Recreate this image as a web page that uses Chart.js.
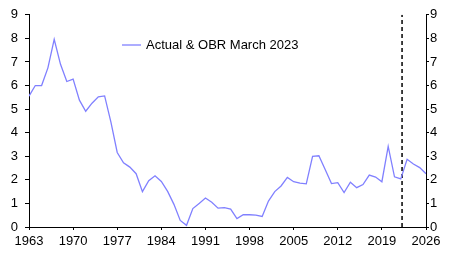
<!DOCTYPE html>
<html>
<head>
<meta charset="utf-8">
<script src="https://cdn.jsdelivr.net/npm/chart.js@4/dist/chart.umd.min.js"></script>
<style>
  html, body { margin: 0; padding: 0; background: #fff; }
  #wrap { width: 456px; height: 253px; position: relative; }
</style>
</head>
<body>
<div id="wrap"><canvas id="chart"></canvas></div>
<script>
const firstYear = 1963;
const rate = [
    5.55, 6.0, 6.0, 6.75, 7.96, 6.9, 6.17, 6.27, 5.38, 4.91,
    5.25, 5.52, 5.56, 4.45, 3.16, 2.72, 2.54, 2.26, 1.5, 1.96,
    2.17, 1.93, 1.51, 0.96, 0.28, 0.07, 0.78, 1.0, 1.23, 1.05,
    0.8, 0.82, 0.76, 0.36, 0.52, 0.52, 0.5, 0.45, 1.1, 1.5,
    1.74, 2.1, 1.92, 1.86, 1.83, 3.0, 3.02, 2.44, 1.84, 1.88,
    1.46, 1.9, 1.67, 1.8, 2.2, 2.12, 1.92, 3.42, 2.13, 2.04,
    2.87, 2.67, 2.52, 2.26
];
const forecastLine = [2022.2];
const xTicks = [1963, 1970, 1977, 1984, 1991, 1998, 2005, 2012, 2019, 2026];
const yTicks = [0, 1, 2, 3, 4, 5, 6, 7, 8, 9];
const seriesLabel = 'Actual & OBR March 2023';

let points = [];
for (let i = 0; i < rate.length; i++) {
    points.push({ x: firstYear + i, y: rate[i] });
}

const font = { family: "'Liberation Sans', Arial, sans-serif", size: 13 };

// legend drawn inside the plot, like the original
const insideLegend = {
    id: 'insideLegend',
    afterDraw(chart) {
        const ctx = chart.ctx;
        const ds = chart.data.datasets[0];
        ctx.save();
        ctx.strokeStyle = ds.borderColor;
        ctx.lineWidth = 1.3;
        ctx.beginPath();
        ctx.moveTo(122, 45);
        ctx.lineTo(141, 45);
        ctx.stroke();
        ctx.fillStyle = '#000';
        ctx.font = font.size + 'px ' + font.family;
        ctx.textBaseline = 'middle';
        ctx.fillText(ds.label, 146, 45);
        ctx.restore();
    }
};

new Chart('chart', {
    type: 'line',
    data: {
        datasets: [{
            label: seriesLabel,
            data: points,
            borderColor: '#8080ff',
            borderWidth: 1.3,
            pointRadius: 0,
            tension: 0,
            yAxisID: 'y'
        }, {
            label: 'forecast',
            data: [{ x: forecastLine[0], y: yTicks[0] }, { x: forecastLine[0], y: yTicks[yTicks.length - 1] }],
            borderColor: '#000',
            borderWidth: 1.5,
            borderDash: [4, 3],
            pointRadius: 0,
            yAxisID: 'y'
        }]
    },
    options: {
        responsive: true,
        maintainAspectRatio: false,
        animation: false,
        devicePixelRatio: 1,
        layout: { padding: { top: 8, left: 0, right: 0, bottom: 0 } },
        plugins: {
            legend: { display: false },
            tooltip: { enabled: false }
        },
        scales: {
            x: {
                type: 'linear',
                min: xTicks[0],
                max: xTicks[xTicks.length - 1],
                afterBuildTicks: function (scale) {
                    scale.ticks = xTicks.map(v => ({ value: v }));
                },
                afterFit: function (scale) { scale.height = 26; },
                grid: {
                    drawOnChartArea: false,
                    drawTicks: true,
                    tickLength: 3,
                    color: '#000'
                },
                border: { display: true, color: '#000', width: 1 },
                ticks: {
                    color: '#000',
                    font: font,
                    padding: 4,
                    maxRotation: 0,
                    autoSkip: false,
                    callback: function (value) { return String(value); }
                }
            },
            y: {
                position: 'left',
                min: 0,
                max: 9,
                afterBuildTicks: function (scale) {
                    scale.ticks = yTicks.map(v => ({ value: v }));
                },
                afterFit: function (scale) { scale.width = 29; },
                grid: {
                    drawOnChartArea: false,
                    drawTicks: true,
                    tickLength: 4,
                    color: '#000'
                },
                border: { display: true, color: '#000', width: 1 },
                ticks: { color: '#000', font: font, padding: 7 }
            },
            y2: {
                position: 'right',
                display: true,
                min: 0,
                max: 9,
                afterBuildTicks: function (scale) {
                    scale.ticks = yTicks.map(v => ({ value: v }));
                },
                afterFit: function (scale) { scale.width = 30; },
                grid: {
                    drawOnChartArea: false,
                    drawTicks: true,
                    tickLength: 3,
                    color: '#000'
                },
                border: { display: true, color: '#000', width: 1 },
                ticks: { color: '#000', font: font, padding: 1 }
            }
        }
    },
    plugins: [insideLegend]
});
</script>
</body>
</html>
